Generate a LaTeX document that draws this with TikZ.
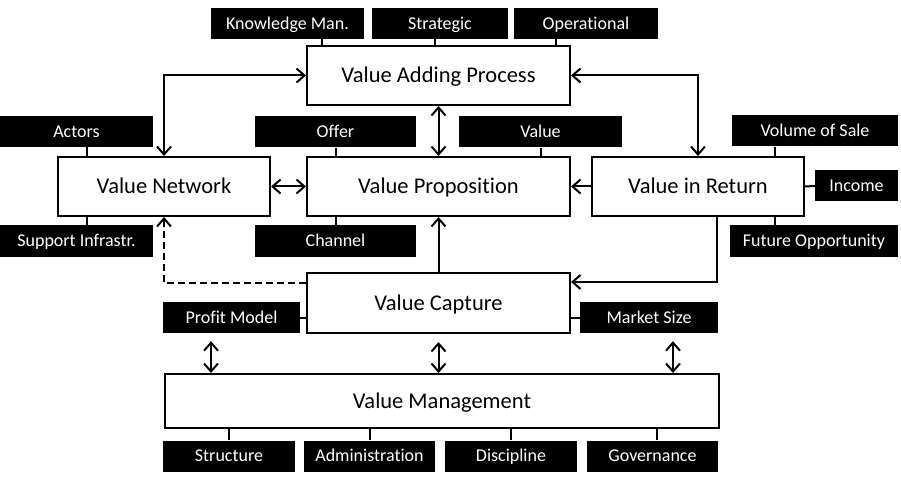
\documentclass[tikz,border=0pt]{standalone}
\usepackage{fontspec}
\setmainfont{Carlito}[Ligatures=NoCommon]
\usetikzlibrary{arrows.meta,calc}
\tikzset{
  vbox/.style={draw=black,fill=white,line width=2pt,font=\fontsize{22.5}{25}\selectfont,inner sep=0pt,text height=14.5pt,text depth=0pt,minimum height=59pt},
  tag/.style={fill=black,text=white,font=\fontsize{18}{21}\selectfont,inner sep=0pt,text height=11.6pt,text depth=0pt,minimum height=31pt},
  stub/.style={line width=2pt},
  arr/.style={line width=2pt,-{Straight Barb[length=8pt,width=14pt]}},
  dbl/.style={line width=2pt,{Straight Barb[length=8pt,width=14pt]}-{Straight Barb[length=8pt,width=14pt]}},
}
\begin{document}
\begin{tikzpicture}[x=1pt,y=-1pt]
  \useasboundingbox (0,0) rectangle (901,478);
  % main boxes
  \node[vbox,minimum width=263pt] (vap) at (438.5,75.5) {Value Adding Process};
  \node[vbox,minimum width=212pt] (vn) at (164,186.5) {Value Network};
  \node[vbox,minimum width=263pt] (vp) at (438.5,186.5) {Value Proposition};
  \node[vbox,minimum width=212pt] (vir) at (698,186.5) {Value in Return};
  \node[vbox,minimum width=263pt,minimum height=60pt] (vc) at (438.5,303) {Value Capture};
  \node[vbox,minimum width=554pt,minimum height=54pt] (vm) at (442,401) {Value Management};
  % black tags
  \node[tag,minimum width=153pt] (km) at (287.5,23.5) {Knowledge Man.};
  \node[tag,minimum width=136pt] (strat) at (440,23.5) {Strategic};
  \node[tag,minimum width=144pt] (oper) at (586,23.5) {Operational};
  \node[tag,minimum width=153pt] (actors) at (76.5,131.5) {Actors};
  \node[tag,minimum width=161pt] (offer) at (335.5,132) {Offer};
  \node[tag,minimum width=163pt] (value) at (540.5,132) {Value};
  \node[tag,minimum width=166pt] (sale) at (815,131) {Volume of Sale};
  \node[tag,minimum width=83pt] (income) at (856.5,186) {Income};
  \node[tag,minimum width=153pt] (support) at (76.5,241) {Support Infrastr.};
  \node[tag,minimum width=161pt] (channel) at (335.5,241) {Channel};
  \node[tag,minimum width=168pt] (future) at (814,241) {Future Opportunity};
  \node[tag,minimum width=137pt] (profit) at (231.5,317.5) {Profit Model};
  \node[tag,minimum width=138pt] (market) at (649,317.5) {Market Size};
  \node[tag,minimum width=132pt] (struct) at (229,456) {Structure};
  \node[tag,minimum width=131pt] (admin) at (369.5,456) {Administration};
  \node[tag,minimum width=132pt] (disc) at (511,456) {Discipline};
  \node[tag,minimum width=131pt] (gov) at (652.5,456) {Governance};
  % stubs
  \draw[stub] ([xshift=34.5pt]km.south) -- ([xshift=34.5pt]km.south |- vap.north);
  \draw[stub] ([xshift=-5pt]strat.south) -- ([xshift=-5pt]strat.south |- vap.north);
  \draw[stub] ([xshift=-30pt]oper.south) -- ([xshift=-30pt]oper.south |- vap.north);
  \draw[stub] ([xshift=10.5pt]actors.south) -- ([xshift=10.5pt]actors.south |- vn.north);
  \draw[stub] (offer.south) -- (offer.south |- vp.north);
  \draw[stub] (value.south) -- (value.south |- vp.north);
  \draw[stub] ([xshift=-40pt]sale.south) -- ([xshift=-40pt]sale.south |- vir.north);
  \draw[stub] (vir.east) -- (income.west);
  \draw[stub] ([xshift=-39pt]future.north) -- ([xshift=-39pt]future.north |- vir.south);
  \draw[stub] ([xshift=10.5pt]support.north) -- ([xshift=10.5pt]support.north |- vn.south);
  \draw[stub] (channel.north) -- (channel.north |- vp.south);
  \draw[stub] (profit.east) -- (profit.east -| vc.west);
  \draw[stub] (market.west) -- (market.west -| vc.east);
  \draw[stub] (struct.north) -- (struct.north |- vm.south);
  \draw[stub] (admin.north) -- (admin.north |- vm.south);
  \draw[stub] (disc.north) -- (disc.north |- vm.south);
  \draw[stub] ([xshift=4.5pt]gov.north) -- ([xshift=4.5pt]gov.north |- vm.south);
  % arrows
  \draw[dbl] (vap.west) -| (vn.north);
  \draw[dbl] (vap.east) -| (vir.north);
  \draw[dbl] (vap.south) -- (vp.north);
  \draw[dbl] (vn.east) -- (vp.west);
  \draw[arr] (vir.west) -- (vp.east);
  \draw[arr] ([xshift=19pt]vir.south) |- ([yshift=21pt]vc.east);
  \draw[arr] (vc.north) -- (vp.south);
  \draw[arr,dash pattern=on 7pt off 4pt] ([yshift=20pt]vc.west) -| (vn.south);
  \draw[dbl,shorten <=8pt] (vc.south) -- (vc.south |- vm.north);
  \draw[dbl,shorten <=8pt] ([xshift=-20.5pt]profit.south) -- ([xshift=-20.5pt]profit.south |- vm.north);
  \draw[dbl,shorten <=8pt] ([xshift=24pt]market.south) -- ([xshift=24pt]market.south |- vm.north);
\end{tikzpicture}
\end{document}
